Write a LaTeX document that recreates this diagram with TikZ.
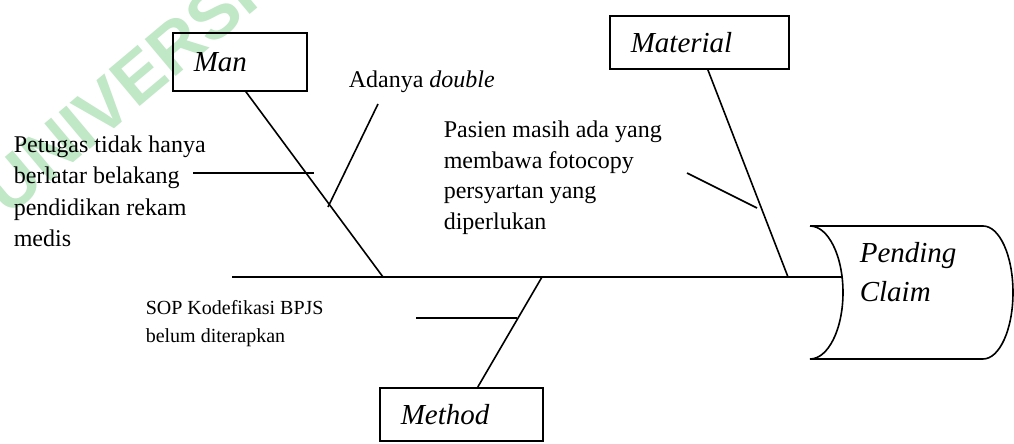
\documentclass[tikz,border=0pt]{standalone}
\usepackage{fontspec}
\setmainfont{Liberation Serif}
\newfontfamily\markfont{Liberation Sans}
\usetikzlibrary{positioning}
\definecolor{markgreen}{RGB}{192,231,198}

\begin{document}
\begin{tikzpicture}[x=0.5pt, y=-0.5pt, line width=0.8pt,
    causebox/.style={draw, anchor=north west, inner xsep=10.5pt, inner ysep=0pt,
        align=left, font=\fontsize{14.5}{20}\selectfont\itshape},
    causetext/.style={anchor=base west, inner sep=0pt, align=left,
        font=\fontsize{12}{15.75}\selectfont},
    smalltext/.style={anchor=base west, inner sep=0pt, align=left,
        font=\fontsize{10}{14}\selectfont}]
    % 画像の大きさ (1014 x 444 px)
    \useasboundingbox (0,0) rectangle (1014,444);

    % 背景の透かし
    \node[rotate=40, anchor=base west, inner sep=0pt, text=markgreen,
        font=\markfont\bfseries\fontsize{35}{35}\selectfont] (mark) at (8,218) {UNIVERSITAS};

    % -------------------------------------------------------------
    % 要因の箱
    % -------------------------------------------------------------
    \node[causebox, text width=46pt, minimum height=29pt] (man) at (172,32) {Man};
    \node[causebox, text width=68.5pt, minimum height=26.5pt] (material) at (609,15) {Material};
    \node[causebox, text width=60.5pt, minimum height=26.5pt] (method) at (379,387) {Method};

    % 結果 (Pending Claim)
    \draw (810,226) -- (983,226)
        .. controls (999.6,226) and (1013,255.8) .. (1013,292.5)
        .. controls (1013,329.2) and (999.6,359) .. (983,359)
        -- (810,359)
        .. controls (828.2,359) and (843,329.2) .. (843,292.5)
        .. controls (843,255.8) and (828.2,226) .. (810,226);
    % 複数行のノードは最終行のベースラインに合わせる
    \node[anchor=base west, inner sep=0pt, align=left,
        font=\fontsize{14.5}{20}\selectfont\itshape] (claim) at (859,302) {Pending\\Claim};

    % -------------------------------------------------------------
    % 背骨と大骨
    % -------------------------------------------------------------
    \coordinate (tail) at (232,277);
    \coordinate (head) at (842,277);
    \coordinate (man-end) at (383,277);
    \coordinate (material-end) at (788,277);
    \coordinate (method-end) at (542,277);

    \draw (tail) -- (head);
    \draw ([xshift=3pt]man.south) -- (man-end);
    \draw ([xshift=4.25pt]material.south) -- (material-end);
    \draw ([xshift=8.25pt]method.north) -- (method-end);

    % -------------------------------------------------------------
    % 小骨とラベル
    % -------------------------------------------------------------
    % Man
    \node[causetext] (staff) at (13,247) {Petugas tidak hanya\\berlatar belakang\\pendidikan rekam\\medis};
    \coordinate (staff-a) at (193,173);
    \coordinate (staff-b) at (314,173);
    \draw (staff-a) -- (staff-b);

    \node[causetext] (double) at (348,88) {Adanya \textit{double}};
    \coordinate (double-a) at (378,104);
    \coordinate (double-b) at (328,207);
    \draw (double-a) -- (double-b);

    % Material
    \node[causetext, font=\fontsize{12}{15.5}\selectfont] (copy) at (443,230) {Pasien masih ada yang\\membawa fotocopy\\persyartan yang\\diperlukan};
    \coordinate (copy-a) at (687,173);
    \coordinate (copy-b) at (757,208);
    \draw (copy-a) -- (copy-b);

    % Method
    \node[smalltext] (sop) at (145,343) {SOP Kodefikasi BPJS\\belum diterapkan};
    \coordinate (sop-a) at (416,318);
    \coordinate (sop-b) at (517,318);
    \draw (sop-a) -- (sop-b);

\end{tikzpicture}
\end{document}
